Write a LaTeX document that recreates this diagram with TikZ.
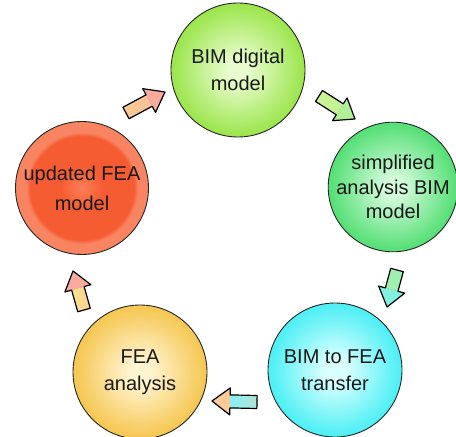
\documentclass[tikz,border=0pt]{standalone}
\usepackage{fontspec}
\setmainfont{Liberation Sans}
\usetikzlibrary{calc}
\definecolor{gTopOut}{RGB}{158,230,80}
\definecolor{gTopIn}{RGB}{232,252,205}
\definecolor{sOut}{RGB}{88,224,120}
\definecolor{sIn}{RGB}{210,250,218}
\definecolor{cOut}{RGB}{80,240,245}
\definecolor{cIn}{RGB}{218,255,255}
\definecolor{yOut}{RGB}{246,200,85}
\definecolor{yIn}{RGB}{255,244,208}
\definecolor{rCen}{RGB}{250,128,88}
\definecolor{rIn}{RGB}{246,92,50}
\definecolor{rRing}{RGB}{248,132,98}
\definecolor{aPeach}{RGB}{252,202,150}
\definecolor{aPink}{RGB}{249,172,158}
\definecolor{aLime}{RGB}{205,242,150}
\definecolor{aLime2}{RGB}{175,240,150}
\definecolor{aGreen}{RGB}{165,240,165}
\definecolor{aTeal}{RGB}{130,242,222}
\definecolor{aCyan}{RGB}{135,240,245}
\definecolor{aYellow}{RGB}{252,226,140}
\definecolor{txt}{RGB}{25,25,25}
\pgfdeclareradialshading{ballG}{\pgfpoint{0bp}{0bp}}{color(0bp)=(gTopIn); color(4bp)=(gTopIn); color(24bp)=(gTopOut); color(50bp)=(gTopOut)}
\pgfdeclareradialshading{ballS}{\pgfpoint{0bp}{0bp}}{color(0bp)=(sIn); color(4bp)=(sIn); color(24bp)=(sOut); color(50bp)=(sOut)}
\pgfdeclareradialshading{ballC}{\pgfpoint{0bp}{0bp}}{color(0bp)=(cIn); color(4bp)=(cIn); color(24bp)=(cOut); color(50bp)=(cOut)}
\pgfdeclareradialshading{ballY}{\pgfpoint{0bp}{0bp}}{color(0bp)=(yIn); color(4bp)=(yIn); color(24bp)=(yOut); color(50bp)=(yOut)}
\pgfdeclareradialshading{ballR}{\pgfpoint{0bp}{0bp}}{color(0bp)=(rCen); color(8bp)=(rIn); color(19.5bp)=(rIn); color(21bp)=(rRing); color(50bp)=(rRing)}
\tikzset{
  stagecircle/.style={circle, draw=black!85, line width=0.9bp, inner sep=0pt,
    minimum size=#1, align=center, text=txt,
    font=\fontsize{20bp}{27bp}\selectfont},
  arrowline/.style={draw=black, line width=1.2bp, line join=round}
}
\newcommand\blockarr[4]{%
  \path let \p1=($(#2)-(#1)$), \n1={atan2(\y1,\x1)}, \n2={veclen(\x1,\y1)} in
    \pgfextra{\xdef\barang{\n1}\xdef\barlen{\n2}};
  \begin{scope}[shift={(#1)}, rotate=\barang]
    \fill[left color=#3, right color=#3!65!#4] (0pt,-6.5bp) -- ({\barlen-18bp},-6.5bp) -- ({\barlen-18bp},6.5bp) -- (0pt,6.5bp) -- cycle;
    \fill[#4] ({\barlen-18bp},-13.5bp) -- (\barlen,0pt) -- ({\barlen-18bp},13.5bp) -- cycle;
    \path[arrowline] (0pt,-6.5bp) -- ({\barlen-18bp},-6.5bp) -- ({\barlen-18bp},-13.5bp) -- (\barlen,0pt) -- ({\barlen-18bp},13.5bp) -- ({\barlen-18bp},6.5bp) -- (0pt,6.5bp) -- cycle;
  \end{scope}}
\begin{document}
\begin{tikzpicture}[x=1bp,y=-1bp]
\useasboundingbox[fill=white] (0,0) rectangle (456,437);
\clip (0,0) rectangle (456,437);
\node[stagecircle=134bp, shading=ballG] (G) at (238,70) {BIM digital\\model};
\node[stagecircle=129bp, shading=ballS, font=\fontsize{20bp}{24.5bp}\selectfont] (S) at (393,187) {simplified\\analysis BIM\\model};
\node[stagecircle=134bp, shading=ballC] (C) at (335,370) {BIM to FEA\\transfer};
\node[stagecircle=134bp, shading=ballY] (Y) at (140,372) {FEA\\analysis};
\node[stagecircle=133bp, shading=ballR, font=\fontsize{20bp}{30bp}\selectfont] (R) at (82,188) {updated FEA\\model};
\coordinate (a1t) at (126,113); \coordinate (a1h) at (165,92);
\coordinate (a2t) at (319,96);  \coordinate (a2h) at (355,119);
\coordinate (a3t) at (397,270); \coordinate (a3h) at (387,307);
\coordinate (a4t) at (257,402); \coordinate (a4h) at (212,401);
\coordinate (a5t) at (84,310);  \coordinate (a5h) at (73,271);
\blockarr{a1t}{a1h}{aPeach}{aPink}
\blockarr{a2t}{a2h}{aLime}{aLime2}
\blockarr{a3t}{a3h}{aGreen}{aTeal}
\blockarr{a4t}{a4h}{aCyan}{aPeach}
\blockarr{a5t}{a5h}{aYellow}{aPink}
\end{tikzpicture}
\end{document}
